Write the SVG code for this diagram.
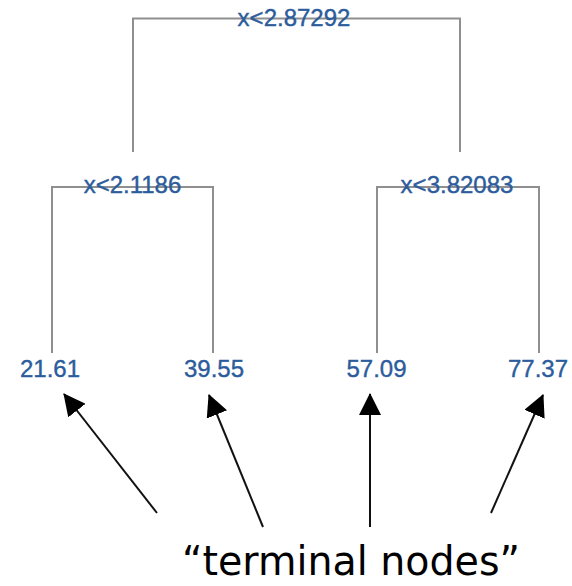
<svg xmlns="http://www.w3.org/2000/svg" width="572" height="586" viewBox="0 0 572 586">
  <defs>
    <style>
      .edge { fill: none; stroke: #8f8f8f; stroke-width: 2; }
      .lbl { font-family: "Liberation Sans", Arial, sans-serif; font-size: 24px; fill: #2c5c9c; stroke: #2c5c9c; stroke-width: 0.4; text-anchor: middle; }
      .ptr { stroke: #111; stroke-width: 2; fill: none; marker-end: url(#head); }
      .caption { font-family: "DejaVu Sans", Verdana, sans-serif; font-size: 40px; fill: #000; text-anchor: middle; }
    </style>
    <marker id="head" viewBox="0 0 22 22" refX="21" refY="11" markerWidth="22" markerHeight="22" markerUnits="userSpaceOnUse" orient="auto">
      <path d="M0,0 L22,11 L0,22 Z" fill="#000"/>
    </marker>
  </defs>
  <rect width="572" height="586" fill="#fff"/>

  <!-- tree branches -->
  <g id="connectors">
    <path class="edge" d="M133,152 V18.5 H460 V152"/>
    <path class="edge" d="M52,353 V187 H213 V353"/>
    <path class="edge" d="M377,353 V187 H539 V353"/>
  </g>

  <g id="split-root"><text class="lbl" x="294" y="26">x&lt;2.87292</text></g>
  <g id="split-left"><text class="lbl" x="132.5" y="193">x&lt;2.1186</text></g>
  <g id="split-right"><text class="lbl" x="457" y="193">x&lt;3.82083</text></g>

  <g id="leaf-1"><text class="lbl" x="50" y="377">21.61</text></g>
  <g id="leaf-2"><text class="lbl" x="214" y="377">39.55</text></g>
  <g id="leaf-3"><text class="lbl" x="376.5" y="377">57.09</text></g>
  <g id="leaf-4"><text class="lbl" x="538" y="377">77.37</text></g>

  <!-- pointers to the leaves -->
  <g id="pointers">
    <line class="ptr" x1="157" y1="513" x2="64" y2="394"/>
    <line class="ptr" x1="263" y1="527" x2="209" y2="395"/>
    <line class="ptr" x1="370" y1="527" x2="370" y2="394"/>
    <line class="ptr" x1="491" y1="513" x2="543" y2="395"/>
  </g>

  <g id="caption"><text class="caption" x="351" y="575" textLength="338" lengthAdjust="spacingAndGlyphs">“terminal nodes”</text></g>
</svg>
